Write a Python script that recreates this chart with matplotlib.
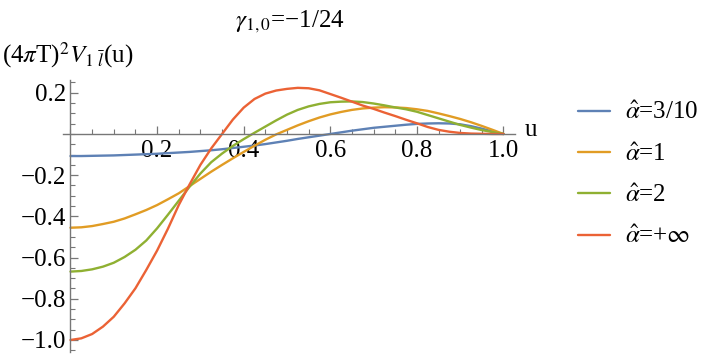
import matplotlib
matplotlib.use("Agg")
import matplotlib.pyplot as plt
import matplotlib.ticker as ticker

plt.rcParams['mathtext.fontset'] = 'stix'
plt.rcParams['font.family'] = ['Liberation Serif', 'STIXGeneral', 'DejaVu Serif']

# values, every 0.025 in u
u = [0.0, 0.025, 0.05, 0.075, 0.1, 0.125, 0.15, 0.175, 0.2, 0.225,
     0.25, 0.275, 0.3, 0.325, 0.35, 0.375, 0.4, 0.425, 0.45, 0.475,
     0.5, 0.525, 0.55, 0.575, 0.6, 0.625, 0.65, 0.675, 0.7, 0.725,
     0.75, 0.775, 0.8, 0.825, 0.85, 0.875, 0.9, 0.925, 0.95, 0.975, 1.0]
v_03 = [-0.107, -0.107, -0.106, -0.105, -0.104, -0.102, -0.100, -0.098, -0.096, -0.093,
        -0.090, -0.087, -0.083, -0.079, -0.074, -0.068, -0.062, -0.056, -0.049, -0.041,
        -0.033, -0.024, -0.016, -0.008, 0.000, 0.008, 0.016, 0.023, 0.030, 0.035,
        0.040, 0.045, 0.049, 0.051, 0.052, 0.051, 0.047, 0.038, 0.026, 0.012, 0.0]
v_1 = [-0.455, -0.453, -0.447, -0.437, -0.426, -0.410, -0.390, -0.369, -0.345, -0.317,
       -0.288, -0.253, -0.218, -0.183, -0.150, -0.118, -0.087, -0.057, -0.028, -0.002,
       0.020, 0.042, 0.062, 0.080, 0.095, 0.107, 0.117, 0.124, 0.128, 0.130,
       0.129, 0.126, 0.120, 0.112, 0.100, 0.087, 0.073, 0.057, 0.039, 0.020, 0.0]
v_2 = [-0.668, -0.665, -0.657, -0.644, -0.625, -0.597, -0.562, -0.517, -0.458, -0.392,
       -0.324, -0.256, -0.192, -0.137, -0.095, -0.058, -0.025, 0.006, 0.036, 0.066,
       0.094, 0.117, 0.134, 0.146, 0.154, 0.157, 0.158, 0.155, 0.148, 0.139,
       0.129, 0.120, 0.108, 0.092, 0.076, 0.060, 0.044, 0.031, 0.019, 0.009, 0.0]
v_inf = [-1.0, -0.992, -0.971, -0.935, -0.887, -0.822, -0.749, -0.660, -0.566, -0.460,
         -0.345, -0.245, -0.150, -0.070, 0.000, 0.070, 0.128, 0.170, 0.196, 0.211,
         0.219, 0.224, 0.222, 0.212, 0.194, 0.176, 0.157, 0.138, 0.122, 0.104,
         0.087, 0.069, 0.052, 0.034, 0.020, 0.011, 0.005, 0.002, 0.001, 0.0, 0.0]

labels = [r'$\hat{\alpha}$=3/10', r'$\hat{\alpha}$=1', r'$\hat{\alpha}$=2', r'$\hat{\alpha}$=+$\infty$']
colors = ['#5E81B5', '#E19C24', '#8FB032', '#EB6235']

W, H = 705, 359
fig = plt.figure(figsize=(W / 100, H / 100), dpi=100)
ax = fig.add_axes([63 / W, 7 / H, 452 / W, 272 / H])

for vals, lab, c in zip([v_03, v_1, v_2, v_inf], labels, colors):
    ax.plot(u, vals, color=c, lw=1.7, label=lab, solid_capstyle='round', solid_joinstyle='round')

ax.set_xlim(-0.0173, 1.0266)
ax.set_ylim(-1.0583, 0.2621)

for s in ['top', 'right']:
    ax.spines[s].set_visible(False)
ax.spines['left'].set_position(('data', 0))
ax.spines['bottom'].set_position(('data', 0))
for s in ['left', 'bottom']:
    ax.spines[s].set_color('#777777')
    ax.spines[s].set_linewidth(1.0)


def fmt(x, pos):
    return f'{x:.1f}'.replace('-', '\u2212')


ax.xaxis.set_major_locator(ticker.FixedLocator([0.2, 0.4, 0.6, 0.8, 1.0]))
ax.xaxis.set_minor_locator(ticker.MultipleLocator(0.05))
ax.yaxis.set_major_locator(ticker.FixedLocator([0.2, -0.2, -0.4, -0.6, -0.8, -1.0]))
ax.yaxis.set_minor_locator(ticker.MultipleLocator(0.05))
ax.xaxis.set_major_formatter(ticker.FuncFormatter(fmt))
ax.yaxis.set_major_formatter(ticker.FuncFormatter(fmt))
ax.tick_params(which='both', direction='in', color='#777777', labelsize=18, labelcolor='black')
ax.tick_params(which='major', length=6, width=0.9)
ax.tick_params(which='minor', length=3.5, width=0.8)
ax.tick_params(axis='x', pad=4)
ax.tick_params(axis='y', pad=3)

ax.text(1.048, 0.02, 'u', fontsize=18, ha='left', va='center', clip_on=False)
fig.text(290 / W, 1 - 22 / H, r'$\gamma_{1,0}$=−1/24', fontsize=18, ha='center', va='center')
fig.text(2 / W, 1 - 55 / H, r'(4$\pi$T)$^2$$V_{1\ \bar{l}}$(u)', fontsize=18, ha='left', va='center')

fig.legend(loc='center left', bbox_to_anchor=(555 / W, 1 - 175 / H), frameon=False,
           fontsize=18, handlelength=1.3, handletextpad=0.6, labelspacing=0.75)

fig.savefig('out.png', dpi=100)
